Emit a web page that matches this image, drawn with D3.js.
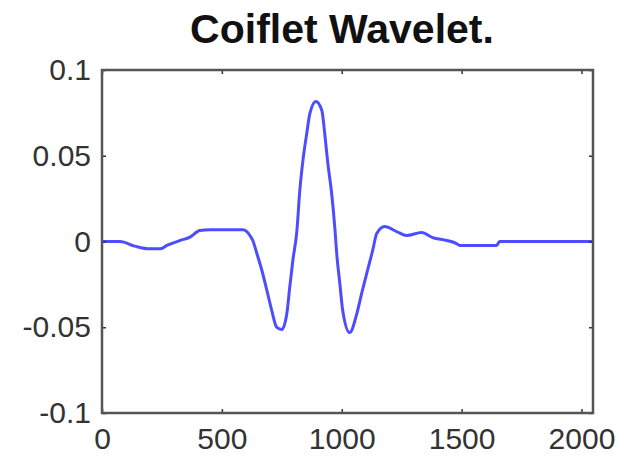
<!DOCTYPE html>
<html>
<head>
<meta charset="utf-8">
<script src="https://cdn.jsdelivr.net/npm/d3@7"></script>
<style>
  body { margin: 0; background: #fff; }
  text { font-family: "Liberation Sans", Arial, sans-serif; }
</style>
</head>
<body>
<svg id="chart" width="619" height="457"></svg>
<script>
// samples (sample index, amplitude)
var sampleX = [0, 75, 137, 200, 242, 271, 325, 367, 408, 450, 588, 617, 629, 646, 667, 688, 708, 729, 750,
    771, 783, 796, 813, 825, 838, 854, 867, 892, 917, 929, 942, 958, 971, 979, 992, 1004, 1033, 1063,
    1083, 1104, 1129, 1146, 1179, 1229, 1271, 1333, 1379, 1438, 1479, 1492, 1646, 1658, 2048];
var sampleY = [0, 0, -0.0027, -0.0043, -0.0043, -0.0023, 0.0006, 0.0025, 0.0064, 0.0068, 0.0068, 0.0035, 0.0006,
    -0.007, -0.0169, -0.0286, -0.0402, -0.0501, -0.0513, -0.042, -0.0268, -0.0111, 0.0064, 0.0297, 0.0472,
    0.063, 0.0746, 0.0816, 0.0764, 0.063, 0.0455, 0.028, 0.0082, -0.007, -0.0245, -0.0402, -0.0531, -0.042,
    -0.0303, -0.0187, -0.0052, 0.0047, 0.0087, 0.0058, 0.0035, 0.0052, 0.0023, 0.0006, -0.0012,
    -0.0023, -0.0023, 0, 0];
var xTicks = [0, 500, 1000, 1500, 2000];
var yTicks = [-0.1, -0.05, 0, 0.05, 0.1];
var chartTitle = "Coiflet Wavelet.";

var svg = d3.select("#chart");
var margin = {top: 70, right: 26, bottom: 44, left: 102},
    width = +svg.attr("width") - margin.left - margin.right,
    height = +svg.attr("height") - margin.top - margin.bottom;

var x = d3.scaleLinear().domain([0, 2048]).range([0, width]);
var y = d3.scaleLinear().domain([-0.1, 0.1]).range([height, 0]);

var g = svg.append("g")
    .attr("transform", "translate(" + margin.left + "," + margin.top + ")");

var data = sampleX.map(function(d, i) { return {x: d, y: sampleY[i]}; });

g.append("path")
    .datum(data)
    .attr("fill", "none")
    .attr("stroke", "#4d4dff")
    .attr("stroke-width", 3)
    .attr("stroke-linejoin", "round")
    .attr("d", d3.line()
        .x(function(d) { return x(d.x); })
        .y(function(d) { return y(d.y); })
        .curve(d3.curveMonotoneX));

var fmt = function(d) { return String(d); };

var xb = g.append("g")
    .attr("transform", "translate(0," + height + ")")
    .call(d3.axisBottom(x).tickValues(xTicks).tickFormat(fmt).tickSizeInner(-4).tickSizeOuter(0).tickPadding(15));
var xt = g.append("g")
    .call(d3.axisTop(x).tickValues(xTicks).tickFormat("").tickSizeInner(-4).tickSizeOuter(0));
var yl = g.append("g")
    .call(d3.axisLeft(y).tickValues(yTicks).tickFormat(fmt).tickSizeInner(-4).tickSizeOuter(0).tickPadding(11));
var yr = g.append("g")
    .attr("transform", "translate(" + width + ",0)")
    .call(d3.axisRight(y).tickValues(yTicks).tickFormat("").tickSizeInner(-4).tickSizeOuter(0));

[xb, xt, yl, yr].forEach(function(a) {
    a.select(".domain").remove();
    a.selectAll(".tick line").attr("stroke", "#333").attr("stroke-width", 1.5);
    a.selectAll("text")
        .attr("font-size", 30)
        .attr("font-family", "'Liberation Sans', Arial, sans-serif")
        .attr("fill", "#333");
});

g.append("rect")
    .attr("width", width)
    .attr("height", height)
    .attr("fill", "none")
    .attr("stroke", "#555")
    .attr("stroke-width", 2.5);

svg.append("text")
    .attr("x", 342)
    .attr("y", 43)
    .attr("text-anchor", "middle")
    .attr("font-size", 41)
    .attr("font-weight", "bold")
    .attr("fill", "#111")
    .text(chartTitle);
</script>
</body>
</html>
